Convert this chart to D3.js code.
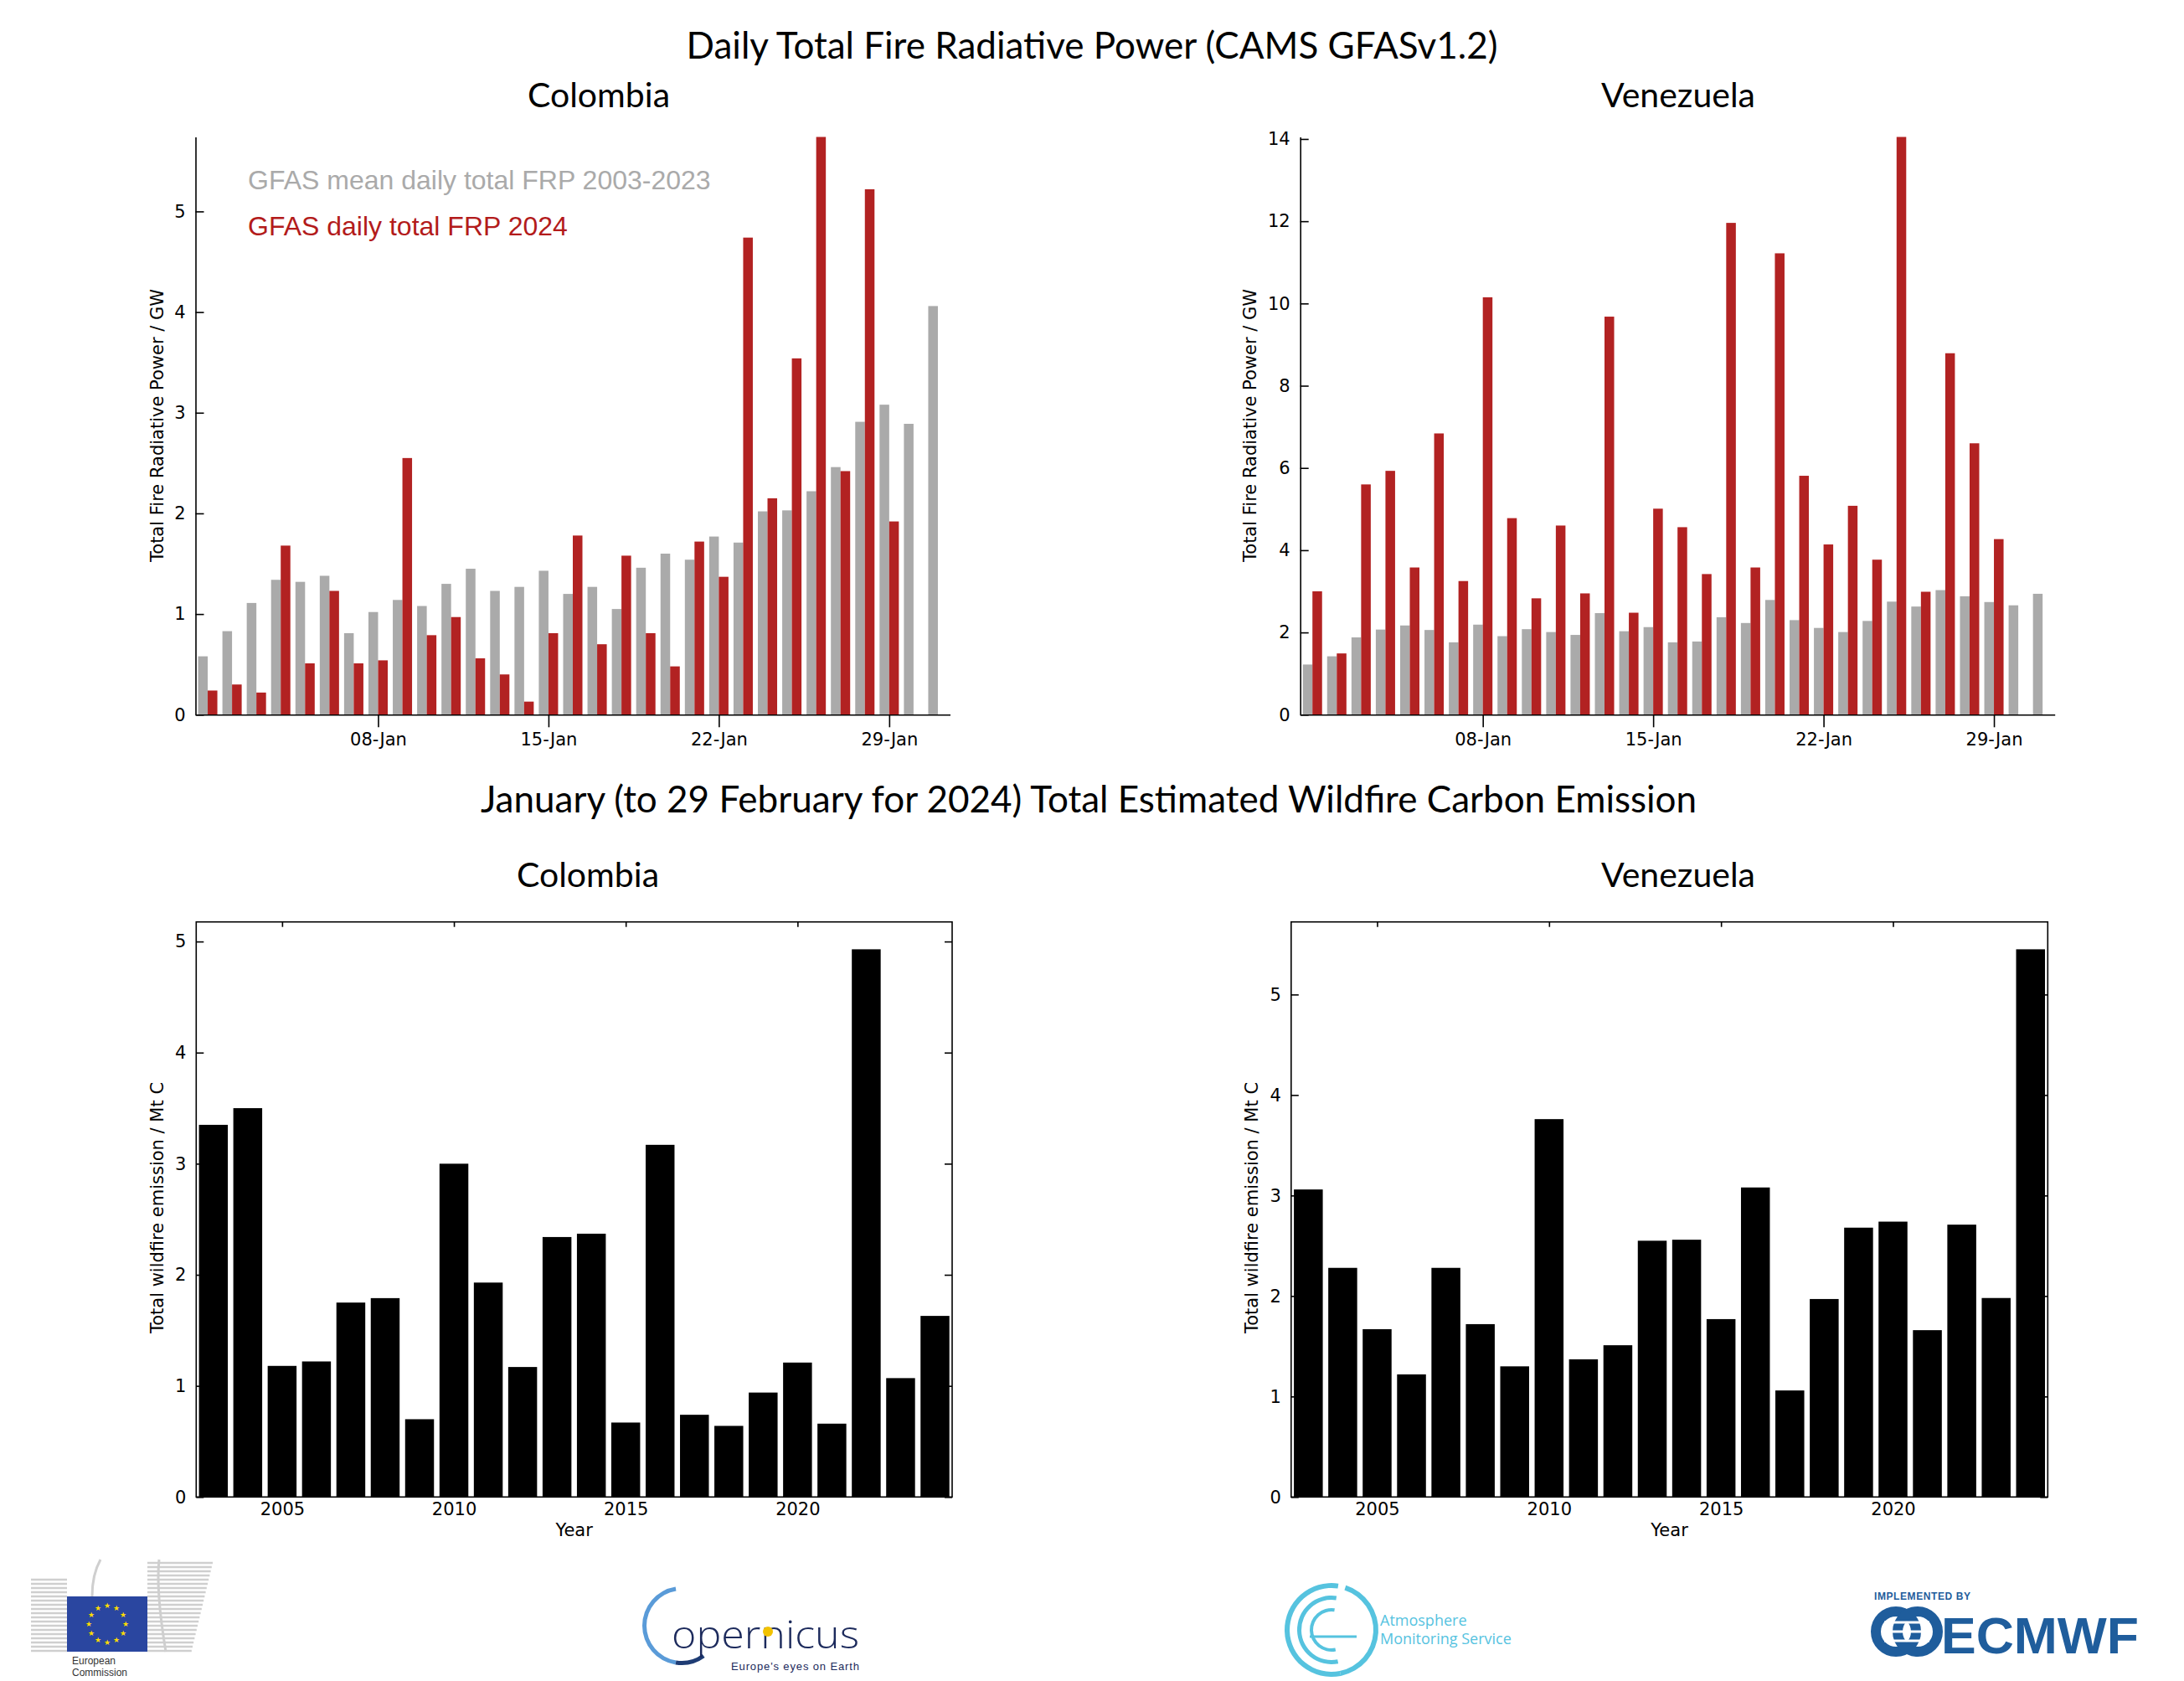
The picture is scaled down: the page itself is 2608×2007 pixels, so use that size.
<!DOCTYPE html>
<html><head><meta charset="utf-8">
<script src="https://cdn.jsdelivr.net/npm/d3@7"></script>
<style>body{margin:0;background:#fff}svg{display:block}</style>
</head><body>
<svg id="c" width="2608" height="2007"></svg>
<script>
// ---------- DATA ----------
const days = [1,2,3,4,5,6,7,8,9,10,11,12,13,14,15,16,17,18,19,20,21,22,23,24,25,26,27,28,29,30,31];
const frpTickDays = [8,15,22,29];
const frpTickLabels = ["08-Jan","15-Jan","22-Jan","29-Jan"];
const colMean = [0.58,0.83,1.11,1.34,1.32,1.38,0.81,1.02,1.14,1.08,1.30,1.45,1.23,1.27,1.43,1.20,1.27,1.05,1.46,1.60,1.54,1.77,1.71,2.02,2.03,2.22,2.46,2.91,3.08,2.89,4.06];
const col2024 = [0.24,0.30,0.22,1.68,0.51,1.23,0.51,0.54,2.55,0.79,0.97,0.56,0.40,0.13,0.81,1.78,0.70,1.58,0.81,0.48,1.72,1.37,4.74,2.15,3.54,5.74,2.42,5.22,1.92];
const venMean = [1.22,1.42,1.88,2.07,2.17,2.06,1.76,2.19,1.91,2.08,2.01,1.94,2.47,2.03,2.13,1.76,1.78,2.37,2.23,2.79,2.30,2.11,2.01,2.28,2.75,2.63,3.03,2.88,2.74,2.66,2.94];
const ven2024 = [3.00,1.49,5.60,5.93,3.58,6.84,3.25,10.15,4.78,2.83,4.60,2.95,9.68,2.48,5.01,4.56,3.42,11.96,3.58,11.22,5.81,4.14,5.08,3.77,14.05,2.99,8.79,6.60,4.27];
const colFrpTicks = [0,1,2,3,4,5];
const venFrpTicks = [0,2,4,6,8,10,12,14];

const years = [2003,2004,2005,2006,2007,2008,2009,2010,2011,2012,2013,2014,2015,2016,2017,2018,2019,2020,2021,2022,2023,2024];
const yearTicks = [2005,2010,2015,2020];
const emTicks = [0,1,2,3,4,5];
const colEmission = [3.35,3.50,1.18,1.22,1.75,1.79,0.70,3.00,1.93,1.17,2.34,2.37,0.67,3.17,0.74,0.64,0.94,1.21,0.66,4.93,1.07,1.63];
const venEmission = [3.06,2.28,1.67,1.22,2.28,1.72,1.30,3.76,1.37,1.51,2.55,2.56,1.77,3.08,1.06,1.97,2.68,2.74,1.66,2.71,1.98,5.45];

const legendLabels = ["GFAS mean daily total FRP 2003-2023","GFAS daily total FRP 2024"];

// ---------- STYLE ----------
const RED = "#b22222", GRAY = "#aaaaaa";
const AX_FONT = "DejaVu Sans";
const TITLE_FONT = "Lato, 'Open Sans', sans-serif";

const svg = d3.select("#c");

function title(txt, x, y, size) {
  svg.append("text").attr("x", x).attr("y", y).attr("text-anchor", "middle")
    .attr("font-family", TITLE_FONT).attr("font-size", size).attr("fill", "#000").text(txt);
}
function yTitle(txt, x, y) {
  svg.append("text").attr("transform", `translate(${x},${y}) rotate(-90)`)
    .attr("text-anchor", "middle").attr("dominant-baseline", "central")
    .attr("font-family", AX_FONT).attr("font-size", 21).attr("fill", "#000").text(txt);
}
function styleAxis(g) {
  g.selectAll("path,line").attr("stroke", "#000").attr("stroke-width", 1.6);
  g.selectAll("text").attr("font-family", AX_FONT).attr("font-size", 21).attr("fill", "#000");
}

// ---------- FRP charts ----------
function drawFRP(x0, x1, meanVals, curVals, yTicks) {
  const yBase = 853.3, yTop = 163.5;
  const x = d3.scaleLinear().domain([0.5, 31.5]).range([x0, x1]);
  const ymax = d3.max(meanVals.concat(curVals));
  const y = d3.scaleLinear().domain([0, ymax]).range([yBase, yTop]);
  const bw = (x(1.5) - x(0.5)) * 0.396;
  const g = svg.append("g");
  g.selectAll("rect.m").data(meanVals).join("rect").attr("class", "m")
    .attr("x", (d, i) => x(days[i]) - bw).attr("width", bw)
    .attr("y", d => y(d)).attr("height", d => y(0) - y(d)).attr("fill", GRAY);
  g.selectAll("rect.c").data(curVals).join("rect").attr("class", "c")
    .attr("x", (d, i) => x(days[i])).attr("width", bw)
    .attr("y", d => y(d)).attr("height", d => y(0) - y(d)).attr("fill", RED);
  const ya = svg.append("g").attr("transform", `translate(${x0},0)`)
    .call(d3.axisLeft(y).tickValues(yTicks).tickSizeInner(-10).tickSizeOuter(0).tickPadding(12).tickFormat(d3.format("d")));
  styleAxis(ya);
  const xa = svg.append("g").attr("transform", `translate(0,${yBase})`)
    .call(d3.axisBottom(x).tickValues(frpTickDays).tickSizeInner(15).tickSizeOuter(0).tickPadding(7)
      .tickFormat((d, i) => frpTickLabels[i]));
  styleAxis(xa);
  return {x, y};
}

drawFRP(233.5, 1134.5, colMean, col2024, colFrpTicks);
drawFRP(1552.7, 2453.7, venMean, ven2024, venFrpTicks);

// legend
svg.append("text").attr("x", 296).attr("y", 226).attr("font-family", "Liberation Sans, Arial")
  .attr("font-size", 32).attr("fill", GRAY).text(legendLabels[0]);
svg.append("text").attr("x", 296).attr("y", 281).attr("font-family", "Liberation Sans, Arial")
  .attr("font-size", 32).attr("fill", "#b31b1b").text(legendLabels[1]);

// ---------- Emission charts ----------
function drawEm(x0, x1, vals) {
  const yBase = 1787.3, yTop = 1100.7;
  const x = d3.scaleLinear().domain([2002.5, 2024.5]).range([x0, x1]);
  const y = d3.scaleLinear().domain([0, d3.max(vals) * 1.05]).range([yBase, yTop]);
  const bw = (x(1) - x(0)) * 0.84;
  svg.append("g").selectAll("rect").data(vals).join("rect")
    .attr("x", (d, i) => x(years[i]) - bw / 2).attr("width", bw)
    .attr("y", d => y(d)).attr("height", d => y(0) - y(d)).attr("fill", "#000");
  const l = svg.append("g").attr("transform", `translate(${x0},0)`)
    .call(d3.axisLeft(y).tickValues(emTicks).tickSizeInner(-9).tickSizeOuter(0).tickPadding(12).tickFormat(d3.format("d")));
  const r = svg.append("g").attr("transform", `translate(${x1},0)`)
    .call(d3.axisRight(y).tickValues(emTicks).tickSizeInner(-9).tickSizeOuter(0).tickFormat(""));
  const b = svg.append("g").attr("transform", `translate(0,${yBase})`)
    .call(d3.axisBottom(x).tickValues(yearTicks).tickSizeInner(-6).tickSizeOuter(0).tickPadding(7).tickFormat(d3.format("d")));
  const t = svg.append("g").attr("transform", `translate(0,${yTop})`)
    .call(d3.axisTop(x).tickValues(yearTicks).tickSizeInner(-6).tickSizeOuter(0).tickFormat(""));
  [l, r, b, t].forEach(a => { styleAxis(a); a.select(".domain").remove(); });
  b.selectAll("text").attr("dy", "0.71em");
  svg.append("rect").attr("x", x0).attr("y", yTop).attr("width", x1 - x0).attr("height", yBase - yTop)
    .attr("fill", "none").attr("stroke", "#000").attr("stroke-width", 1.6);
  svg.append("text").attr("x", (x0 + x1) / 2).attr("y", 1834).attr("text-anchor", "middle")
    .attr("font-family", AX_FONT).attr("font-size", 21).attr("fill", "#000").text("Year");
}
drawEm(234.3, 1137, colEmission);
drawEm(1541.8, 2445.3, venEmission);

// ---------- Titles ----------
title("Daily Total Fire Radiative Power (CAMS GFASv1.2)", 1304, 70, 44);
title("Colombia", 715, 128, 41);
title("Venezuela", 2004, 128, 41);
title("January (to 29 February for 2024) Total Estimated Wildfire Carbon Emission", 1300, 970, 44);
title("Colombia", 702, 1059, 41);
title("Venezuela", 2004, 1059, 41);

yTitle("Total Fire Radiative Power / GW", 188, 508);
yTitle("Total Fire Radiative Power / GW", 1493, 508);
yTitle("Total wildfire emission / Mt C", 188, 1442);
yTitle("Total wildfire emission / Mt C", 1495, 1442);

// ---------- Logos (approximate) ----------
const logo = svg.append("g");
// European Commission: building stripes
for (let k = 0; k < 22; k++) {
  const yy = 1866 + k * 5;
  if (yy + 20 < 1975) logo.append("line").attr("x1", 37).attr("x2", 80).attr("y1", yy + 20).attr("y2", yy + 20)
    .attr("stroke", "#cfcfcf").attr("stroke-width", 2.4);
  logo.append("line").attr("x1", 176).attr("x2", 254 - k * 1.2).attr("y1", yy).attr("y2", yy)
    .attr("stroke", "#cfcfcf").attr("stroke-width", 2.4);
}
logo.append("path").attr("d", "M120,1862 Q110,1880 110,1906").attr("stroke", "#cfcfcf").attr("stroke-width", 3).attr("fill", "none");
logo.append("path").attr("d", "M190,1862 Q186,1900 198,1972").attr("stroke", "#cfcfcf").attr("stroke-width", 3).attr("fill", "none");
logo.append("rect").attr("x", 80).attr("y", 1906).attr("width", 96).attr("height", 66).attr("fill", "#2a46a0");
for (let k = 0; k < 12; k++) {
  const a = k * Math.PI / 6;
  logo.append("text").attr("x", 128 + 22 * Math.sin(a)).attr("y", 1939 - 22 * Math.cos(a))
    .attr("text-anchor", "middle").attr("dominant-baseline", "central")
    .attr("font-size", 9).attr("fill", "#ffdd00").text("★");
}
logo.append("text").attr("x", 86).attr("y", 1987).attr("font-family", "Liberation Sans Narrow, Liberation Sans")
  .attr("font-size", 12).attr("fill", "#333").text("European");
logo.append("text").attr("x", 86).attr("y", 2001).attr("font-family", "Liberation Sans Narrow, Liberation Sans")
  .attr("font-size", 12).attr("fill", "#333").text("Commission");

// Copernicus
const arc = d3.arc();
logo.append("path").attr("transform", "translate(814,1941)")
  .attr("d", arc({innerRadius: 42, outerRadius: 47, startAngle: -Math.PI * 0.05, endAngle: -Math.PI * 0.95}))
  .attr("fill", "#5a9bd8");
logo.append("path").attr("transform", "translate(814,1941)")
  .attr("d", arc({innerRadius: 42, outerRadius: 47, startAngle: -Math.PI * 0.95, endAngle: -Math.PI * 1.2}))
  .attr("fill", "#1e3c74");
logo.append("text").attr("x", 802).attr("y", 1968).attr("font-family", "Open Sans, Lato").attr("font-weight", 300)
  .attr("font-size", 46).attr("fill", "#1c2a5c").attr("textLength", 224).attr("lengthAdjust", "spacingAndGlyphs").text("opernicus");
logo.append("circle").attr("cx", 917).attr("cy", 1948).attr("r", 6).attr("fill", "#f2c200");
logo.append("text").attr("x", 873).attr("y", 1994).attr("font-family", "Liberation Sans Narrow, Liberation Sans")
  .attr("font-size", 13).attr("fill", "#1c2a5c").attr("textLength", 153).text("Europe's eyes on Earth");

// Atmosphere Monitoring Service
const cx = 1590, cy = 1946;
[[50, 56], [36, 41], [22, 26]].forEach(([ri, ro]) => {
  logo.append("path").attr("transform", `translate(${cx},${cy})`)
    .attr("d", arc({innerRadius: ri, outerRadius: ro, startAngle: 0.15, endAngle: -Math.PI - 0.2}))
    .attr("fill", "#56c3df");
});
logo.append("path").attr("transform", `translate(${cx},${cy})`)
  .attr("d", arc({innerRadius: 50, outerRadius: 56, startAngle: -Math.PI - 0.2, endAngle: -Math.PI * 1.9}))
  .attr("fill", "#56c3df");
logo.append("line").attr("x1", cx - 26).attr("x2", cx + 30).attr("y1", cy + 8).attr("y2", cy + 8).attr("stroke", "#56c3df").attr("stroke-width", 3);
logo.append("text").attr("x", 1648).attr("y", 1941).attr("font-family", "Open Sans, Lato")
  .attr("font-size", 18).attr("fill", "#56c3df").text("Atmosphere");
logo.append("text").attr("x", 1648).attr("y", 1963).attr("font-family", "Open Sans, Lato")
  .attr("font-size", 18).attr("fill", "#56c3df").text("Monitoring Service");

// ECMWF
logo.append("text").attr("x", 2238).attr("y", 1910).attr("font-family", "Liberation Sans Narrow, Liberation Sans")
  .attr("font-size", 12).attr("font-weight", "bold").attr("fill", "#1f5d9c").attr("textLength", 115).text("IMPLEMENTED BY");
logo.append("circle").attr("cx", 2264).attr("cy", 1948).attr("r", 24).attr("fill", "none").attr("stroke", "#1f5d9c").attr("stroke-width", 12);
logo.append("circle").attr("cx", 2290).attr("cy", 1948).attr("r", 24).attr("fill", "none").attr("stroke", "#1f5d9c").attr("stroke-width", 12);
[1937, 1948, 1959].forEach(yy => logo.append("line").attr("x1", 2250).attr("x2", 2304).attr("y1", yy).attr("y2", yy)
  .attr("stroke", "#fff").attr("stroke-width", 3));
logo.append("text").attr("x", 2318).attr("y", 1974).attr("font-family", "Liberation Sans Narrow, Liberation Sans")
  .attr("font-size", 62).attr("font-weight", "bold").attr("fill", "#1f5d9c")
  .attr("textLength", 236).attr("lengthAdjust", "spacingAndGlyphs").text("ECMWF");
</script>
</body></html>
